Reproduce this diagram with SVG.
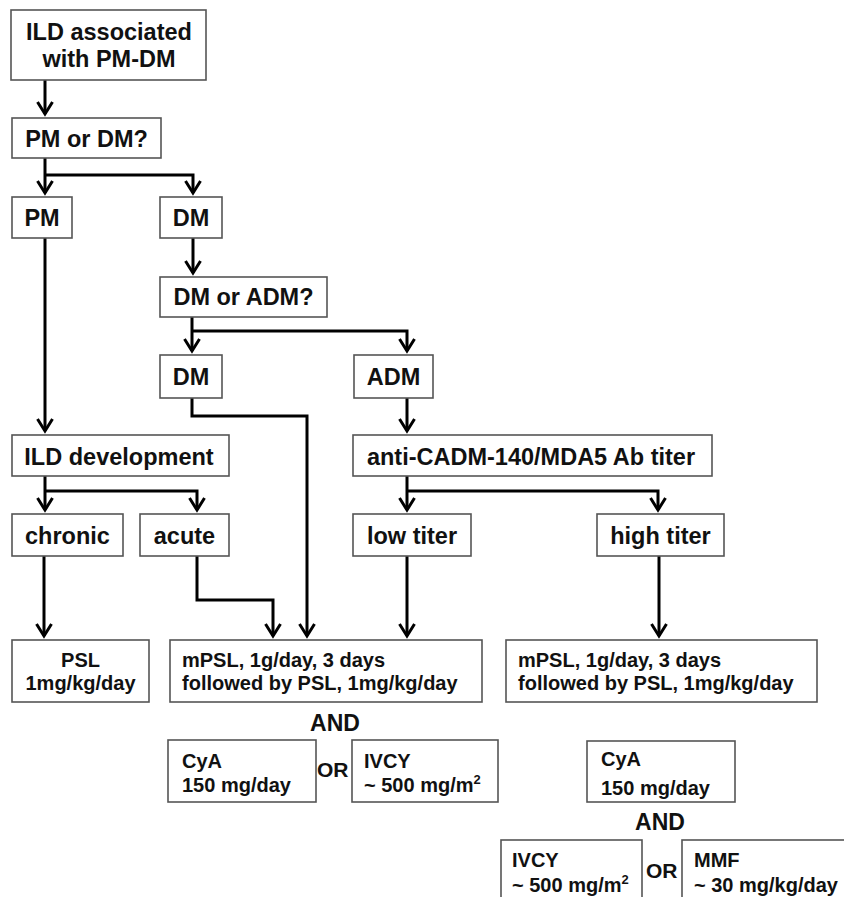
<svg xmlns="http://www.w3.org/2000/svg" width="844" height="897" viewBox="0 0 844 897">
<defs>
<marker id="arr" markerUnits="userSpaceOnUse" markerWidth="30" markerHeight="30" refX="0" refY="0" viewBox="-15 -15 30 30" orient="auto" overflow="visible">
<path d="M-12,-7.5 L0,0 L-12,7.5" fill="none" stroke="#000" stroke-width="3" stroke-linejoin="miter"/>
</marker>
</defs>
<style>
rect{fill:#fff;stroke:#555;stroke-width:1.6}
text{font-family:"Liberation Sans",Arial,Helvetica,sans-serif;font-weight:bold;fill:#111}
.n{font-size:23.5px;text-anchor:middle}
.t{font-size:20px}
.c{text-anchor:middle}
.k{font-size:23px;text-anchor:middle}
.e path{fill:none;stroke:#000;stroke-width:3}
.a{marker-end:url(#arr)}
</style>
<rect x="0" y="0" width="844" height="897" style="fill:#fff;stroke:none"/>
<g class="e" id="connectors">
<path class="a" d="M45,80 V114"/>
<path class="a" d="M45,158 V193"/>
<path class="a" d="M45,175 H193 V193"/>
<path class="a" d="M45,238 V431"/>
<path class="a" d="M193,238 V273"/>
<path class="a" d="M192,317 V351"/>
<path class="a" d="M192,331 H407 V351"/>
<path class="a" d="M192,398 V416 H307 V636"/>
<path class="a" d="M407,398 V431"/>
<path class="a" d="M45,476 V510"/>
<path class="a" d="M45,491 H197 V510"/>
<path class="a" d="M407,476 V510"/>
<path class="a" d="M407,491 H658 V510"/>
<path class="a" d="M44,556 V636"/>
<path class="a" d="M197,556 V600 H273 V636"/>
<path class="a" d="M407,556 V636"/>
<path class="a" d="M659,556 V636"/>
</g>
<g id="n-ild"><rect x="11" y="10" width="195" height="70"/><text class="n" x="109" y="40">ILD associated</text><text class="n" x="109" y="67">with PM-DM</text></g>
<g id="n-pmordm"><rect x="12" y="118" width="149" height="40"/><text class="n" x="86.5" y="147">PM or DM?</text></g>
<g id="n-pm"><rect x="12" y="197" width="60" height="41"/><text class="n" x="42" y="226">PM</text></g>
<g id="n-dm1"><rect x="160" y="197" width="62" height="41"/><text class="n" x="191" y="226">DM</text></g>
<g id="n-dmoradm"><rect x="160" y="277" width="167" height="40"/><text class="n" x="243.5" y="305">DM or ADM?</text></g>
<g id="n-dm2"><rect x="160" y="355" width="62" height="43"/><text class="n" x="191" y="385">DM</text></g>
<g id="n-adm"><rect x="354" y="355" width="79" height="43"/><text class="n" x="393.5" y="385">ADM</text></g>
<g id="n-ilddev"><rect x="12" y="435" width="217" height="41"/><text class="n" x="119" y="465">ILD development</text></g>
<g id="n-anti"><rect x="353" y="435" width="359" height="41"/><text class="n" x="531" y="465">anti-CADM-140/MDA5 Ab titer</text></g>
<g id="n-chronic"><rect x="12" y="514" width="111" height="42"/><text class="n" x="67.5" y="544">chronic</text></g>
<g id="n-acute"><rect x="140" y="514" width="89" height="42"/><text class="n" x="184.5" y="544">acute</text></g>
<g id="n-low"><rect x="353" y="514" width="118" height="42"/><text class="n" x="412" y="544">low titer</text></g>
<g id="n-high"><rect x="597" y="514" width="127" height="42"/><text class="n" x="660.5" y="544">high titer</text></g>
<g id="n-psl"><rect x="12" y="640" width="137" height="62"/><text class="t c" x="80.5" y="667">PSL</text><text class="t c" x="80.5" y="690">1mg/kg/day</text></g>
<g id="n-mpsl1"><rect x="170" y="640" width="312" height="62"/><text class="t" x="182" y="667">mPSL, 1g/day, 3 days</text><text class="t" x="182" y="690">followed by PSL, 1mg/kg/day</text></g>
<g id="n-mpsl2"><rect x="506" y="640" width="311" height="62"/><text class="t" x="518" y="667">mPSL, 1g/day, 3 days</text><text class="t" x="518" y="690">followed by PSL, 1mg/kg/day</text></g>
<g id="and1"><text class="k" x="335" y="731">AND</text></g>
<g id="n-cya1"><rect x="168" y="740" width="148" height="62"/><text class="t" x="182" y="768">CyA</text><text class="t" x="182" y="792">150 mg/day</text></g>
<g id="or1"><text class="t" x="317" y="777" style="font-size:21px">OR</text></g>
<g id="n-ivcy1"><rect x="352" y="740" width="146" height="62"/><text class="t" x="364" y="768">IVCY</text><text class="t" x="364" y="792">~ 500 mg/m<tspan font-size="13" dy="-8">2</tspan></text></g>
<g id="and2"><text class="k" x="660" y="830">AND</text></g>
<g id="n-cya2"><rect x="587" y="741" width="148" height="61"/><text class="t" x="601" y="766">CyA</text><text class="t" x="601" y="795">150 mg/day</text></g>
<g id="n-ivcy2"><rect x="501" y="840" width="141" height="70"/><text class="t" x="512" y="867">IVCY</text><text class="t" x="512" y="892">~ 500 mg/m<tspan font-size="13" dy="-8">2</tspan></text></g>
<g id="or2"><text class="t" x="646" y="878" style="font-size:21px">OR</text></g>
<g id="n-mmf"><rect x="682" y="840" width="180" height="70"/><text class="t" x="694" y="867">MMF</text><text class="t" x="694" y="892">~ 30 mg/kg/day</text></g>
</svg>
